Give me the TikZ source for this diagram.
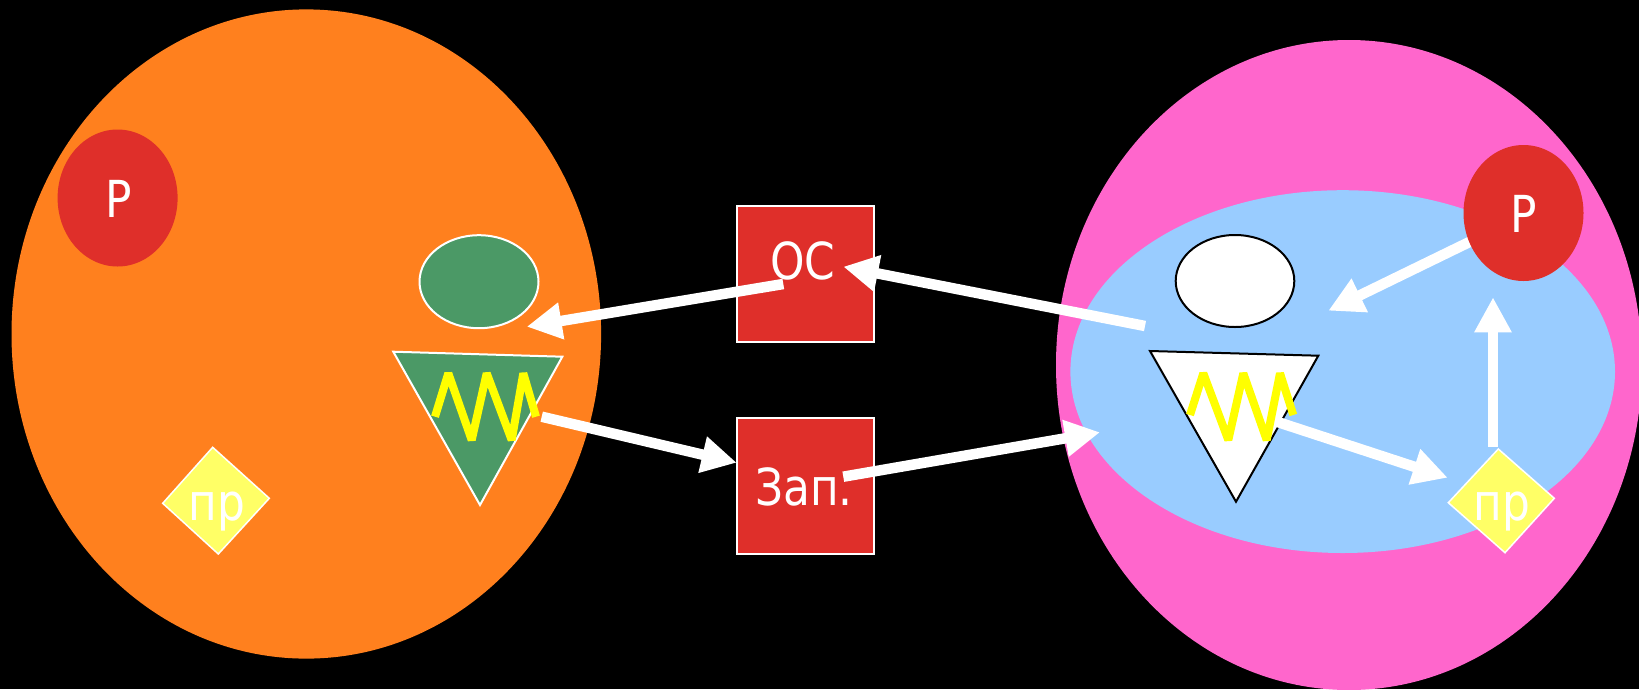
\documentclass[tikz,border=0pt]{standalone}
\usepackage{fontspec}
\setmainfont{DejaVu Sans}[FakeStretch=0.86]
\usetikzlibrary{shapes.geometric,arrows.meta}
\definecolor{orng}{RGB}{255,128,30}
\definecolor{pnk}{RGB}{255,102,204}
\definecolor{skyb}{RGB}{153,204,255}
\definecolor{redc}{RGB}{223,47,42}
\definecolor{grn}{RGB}{75,153,102}
\definecolor{ylwd}{RGB}{255,255,102}
\definecolor{ylwz}{RGB}{255,255,0}
\tikzset{
  blob/.style={ellipse, inner sep=0pt, outer sep=0pt},
  redbox/.style={rectangle, fill=redc, draw=white, line width=2pt, minimum width=137.6pt, minimum height=136pt, inner sep=0pt},
  lbl/.style={text=white, font=\fontsize{51}{54}\selectfont, inner sep=0pt, anchor=base},
  arr/.style={draw=white, fill=white, line width=10.5pt, -{Triangle[length=35pt,width=35pt]}},
  zig/.style={draw=ylwz, line width=8pt, line join=bevel},
  dmd/.style={fill=ylwd, draw=white, line width=1.5pt}
}
\begin{document}
\begin{tikzpicture}[x=1pt,y=-1pt]
\fill[black] (0,0) rectangle (1639,689);
\useasboundingbox (0,0) rectangle (1639,689);
% big cells
\node[blob, fill=orng, minimum width=589.6pt, minimum height=649.2pt] (cellL) at (306.3,334) {};
\node[blob, fill=pnk, minimum width=586pt, minimum height=650pt] (cellR) at (1349,365) {};
\node[blob, fill=skyb, minimum width=544.6pt, minimum height=362.8pt] (nucR) at (1342.7,371.6) {};
% boxes
\node[redbox] (os) at (805.5,273.7) {};
\node[redbox] (zap) at (805.5,485.5) {};
% ellipses
\node[blob, fill=grn, draw=white, line width=2pt, minimum width=119pt, minimum height=93pt] (gL) at (479,281.7) {};
\node[blob, fill=white, draw=black, line width=2pt, minimum width=118.6pt, minimum height=92pt] (wR) at (1235,281) {};
% triangles
\fill[grn] (393.3,351.7) coordinate (tL1) -- (562.3,356.7) coordinate (tL2) -- (480,505) coordinate (tL3) -- cycle;
\draw[white, line width=2pt, line join=miter] (tL1) -- (tL2) -- (tL3) -- cycle;
\fill[white] (1150,351) coordinate (tR1) -- (1318.3,355.7) coordinate (tR2) -- (1236,501.7) coordinate (tR3) -- cycle;
\draw[black, line width=2pt, line join=miter] (tR1) -- (tR2) -- (tR3) -- cycle;
% arrow end points
\coordinate (a1s) at (783.3,284);  \coordinate (a1e) at (526.7,326.7);
\coordinate (a2s) at (541.7,416.7); \coordinate (a2e) at (736.7,462.7);
\coordinate (a3s) at (843.3,476.7); \coordinate (a3e) at (1100,432.3);
\coordinate (a4s) at (1145,326);    \coordinate (a4e) at (843.3,266.7);
\coordinate (a5s) at (1470,241.7);  \coordinate (a5e) at (1328.3,310.7);
\coordinate (a6s) at (1276.7,421.7); \coordinate (a6e) at (1447.7,477.7);
\coordinate (a7s) at (1493,446.7);  \coordinate (a7e) at (1493,297.3);
\draw[arr] (a1s) -- (a1e);
\draw[arr] (a2s) -- (a2e);
\draw[arr] (a3s) -- (a3e);
\draw[arr] (a4s) -- (a4e);
\draw[arr] (a5s) -- (a5e);
\draw[arr] (a6s) -- (a6e);
\draw[arr] (a7s) -- (a7e);
% receptors
\node[blob, fill=redc, minimum width=120pt, minimum height=137pt] (pL) at (117.6,198) {};
\node[blob, fill=redc, minimum width=120pt, minimum height=136pt] (pR) at (1523.5,213) {};
% diamonds
\path[dmd] (212.7,447.3) -- (269.3,498.3) -- (218.3,554) -- (162.7,503.3) -- cycle;
\path[dmd] (1498.3,449) -- (1554.3,498.3) -- (1505,552.7) -- (1448.3,502.7) -- cycle;
% zigzags
\draw[zig] (435,416.7) -- (448.3,373.3) -- (471.7,440) -- (486.7,373.3) -- (511.7,440) -- (523.3,373.3) -- (536,416.7);
\draw[zig] (1190,415) -- (1203.3,373.3) -- (1228.3,440) -- (1243.3,373.3) -- (1266.7,440) -- (1280,373.3) -- (1293.3,415);
% labels
\node[lbl] (tpL) at (118.3,217.3) {Р};
\node[lbl] (tpR) at (1523.5,232.3) {Р};
\node[lbl] (tos) at (803,279.3) {ОС};
\node[lbl] (tzap) at (804,505) {Зап.};
\node[lbl] (tdL) at (216.7,520) {пр};
\node[lbl] (tdR) at (1502,520) {пр};
\end{tikzpicture}
\end{document}
